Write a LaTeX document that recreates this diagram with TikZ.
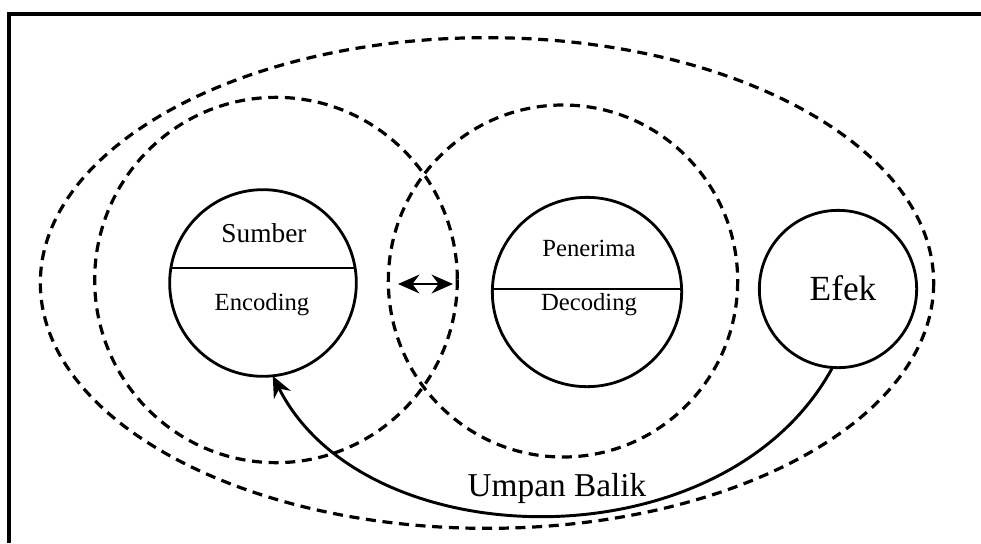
\documentclass[tikz,border=0pt]{standalone}
\usepackage{fontspec}
\setmainfont{Liberation Serif}
\usepackage{tikz}
\usetikzlibrary{arrows.meta}
\usetikzlibrary{calc}

\begin{document}
\begin{tikzpicture}[x=0.75pt,y=0.75pt,yscale=-1,xscale=1,
  roda/.style={draw,circle,line width=2.1pt,inner sep=0pt,outer sep=0pt},
  putus/.style={line width=2.4pt,dash pattern=on 7.5pt off 5pt},
  teks/.style={inner sep=0.75pt,font=\fontsize{18.5}{20}\selectfont},
  panah/.style={line width=2.2pt,>={Stealth[length=16pt,width=14pt]}}]
  \useasboundingbox (0,0) rectangle (981,543);
  %Frame
  \draw [line width=2.4pt] (9,543) -- (9,14) -- (981,14);

  %Dashed ellipses
  \draw [putus] (487,283) ellipse [x radius=335pt, y radius=184pt];
  \draw [putus] (276,280) ellipse [x radius=136pt, y radius=137pt];
  \draw [putus] (563,281) ellipse [x radius=131pt, y radius=132pt];

  %Circles
  \node [roda,minimum size=140pt] (sumber) at (263,283) {};
  \node [roda,minimum size=142pt] (penerima) at (587,292) {};
  \node [roda,minimum size=118pt] (efek) at (838,289) {};
  \draw [line width=2.1pt] ($(sumber.center)+(-92,-15)$) -- ($(sumber.center)+(92,-15)$);
  \draw [line width=2.1pt] ($(penerima.center)+(-94,-3)$) -- ($(penerima.center)+(94,-3)$);

  % Text Node
  \node [teks,font=\fontsize{20.5}{22}\selectfont] (tsumber) at (264,233) {Sumber};
  % Text Node
  \node [teks] (tencoding) at (262,305) {Encoding};
  % Text Node
  \node [teks] (tpenerima) at (589,248) {Penerima};
  % Text Node
  \node [teks] (tdecoding) at (589,305) {Decoding};
  % Text Node
  \node [inner sep=0.75pt,font=\fontsize{26.5}{28}\selectfont] (tefek) at (843,288) {Efek};
  % Text Node
  \node [inner sep=0.75pt,font=\fontsize{25}{27}\selectfont] (tumpan) at (557,488) {Umpan Balik};

  %Double arrow
  \coordinate (kiri) at (398,284);
  \coordinate (kanan) at (453,284);
  \draw [panah,<->] (kiri) -- (kanan);

  %Feedback
  \draw [panah,->] (efek.-94) .. controls (725,566) and (365,560) .. (sumber.-84);
\end{tikzpicture}
\end{document}
